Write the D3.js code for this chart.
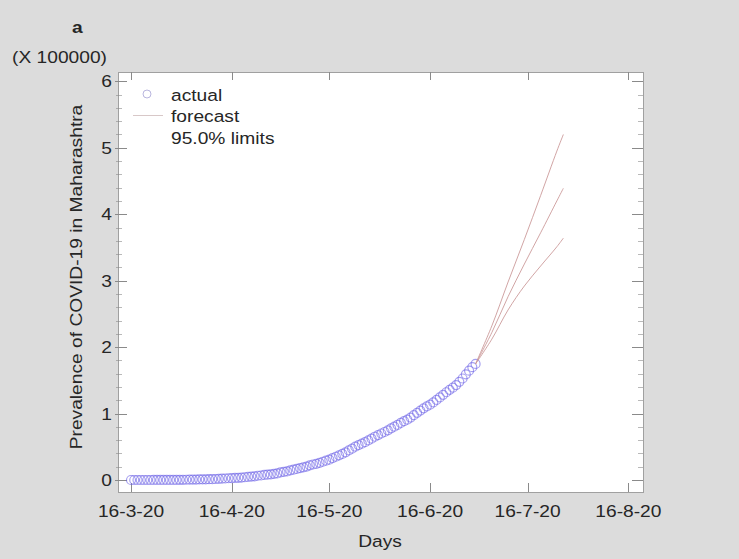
<!DOCTYPE html>
<meta charset="utf-8">
<style>
    body {
        margin: 0;
        background-color: #dcdcdc;
        font-family: "Liberation Sans", Arial, Helvetica, sans-serif;
    }

    #chart {
        display: block;
    }

    text {
        fill: #262626;
    }
</style>

<body>
    <svg id="chart" width="739" height="559"></svg>
</body>

<script src="https://cdn.jsdelivr.net/npm/d3@7"></script>
<script>
    // Cumulative cases in Maharashtra, one value per day from 16-3-20 to 30-6-20
    var actualStart = "2020-03-16";
    var actualCases = [
        39, 41, 45, 49, 52, 63, 74, 97, 107, 122, 130, 153, 186, 203, 220, 302,
        335, 423, 490, 635, 748, 868, 1018, 1135, 1297, 1364, 1574, 1761, 1982, 2334, 2687,
        2919, 3202, 3323, 3648, 4200, 4666, 5218, 5649, 6427, 6817, 7628, 8068, 8590, 9318, 9915,
        11506, 12296, 12974, 14541, 15525, 16758, 17974, 19063, 20228, 22171, 23401, 24427, 25922,
        27524, 29100, 30706, 33053, 35058, 37136, 39297, 41642, 44582, 47190, 50231, 52667, 54758,
        56948, 59546, 62228, 65168, 67655,
        70013, 72300, 74860, 77793, 80229, 82968, 85975, 88528, 90787, 94041, 97648, 101141,
        104568, 107958, 110744, 113445, 116752, 120504, 124331, 128205, 132075, 135796, 139010,
        142900, 147741, 152765, 159133, 164626, 169883, 174761
    ];

    // Forecast and 95% limits
    var forecastDates = ["2020-06-30", "2020-07-05", "2020-07-10", "2020-07-15", "2020-07-20", "2020-07-25", "2020-07-27"];
    var forecastMid = [174761, 222000, 276000, 325000, 372000, 420000, 439000];
    var forecastLower = [174761, 212000, 256000, 292000, 322000, 351000, 364000];
    var forecastUpper = [174761, 232000, 298000, 362000, 428000, 495000, 520000];

    var xTickDates = ["2020-03-16", "2020-04-16", "2020-05-16", "2020-06-16", "2020-07-16", "2020-08-16"];
    var yTicks = [0, 100000, 200000, 300000, 400000, 500000, 600000];
    var yMinorTicks = d3.range(0, 600001, 20000);

    var svg = d3.select("#chart"),
        pLeft = 118, pRight = 643, pTop = 72, pBottom = 492,
        parse = d3.utcParse("%Y-%m-%d"),
        fmt = d3.utcFormat("%-d-%-m-%y"),
        sx = 1.13; // text in the original is drawn a bit wide

    var x = d3.scaleUtc()
        .domain([parse("2020-03-12"), new Date(Date.UTC(2020, 7, 20, 12))])
        .range([pLeft, pRight]);
    var y = d3.scaleLinear().domain([-18000, 614000]).range([pBottom, pTop]);

    var actual = actualCases.map(function (v, i) {
        return { date: d3.utcDay.offset(parse(actualStart), i), value: v };
    });

    function series(vals) {
        return vals.map(function (v, i) {
            return { date: parse(forecastDates[i]), value: v };
        });
    }

    function label(g, tx, ty, str, anchor, size, rot) {
        return g.append("text")
            .attr("transform", "translate(" + tx + "," + ty + ")" + (rot ? "rotate(" + rot + ")" : "") +
                "scale(" + sx + ",1)")
            .attr("text-anchor", anchor || "start")
            .attr("font-size", size || 17)
            .text(str);
    }

    function py(d) { return Math.round(y(d)) + 0.5; }
    function px(d) { return Math.round(x(parse(d))) + 0.5; }

    // plot area
    svg.append("rect")
        .attr("x", pLeft + 0.5).attr("y", pTop + 0.5)
        .attr("width", pRight - pLeft).attr("height", pBottom - pTop)
        .attr("fill", "#fff")
        .attr("stroke", "#a0a0a0");

    var ticks = svg.append("g").attr("stroke", "#8a8a8a").attr("stroke-width", 1);

    // y ticks: left crossing, right inward
    ticks.selectAll(".ymin").data(yMinorTicks).enter().append("line")
        .attr("x1", pLeft - 2).attr("x2", pLeft + 4)
        .attr("y1", py).attr("y2", py).attr("stroke-opacity", 0.6);
    ticks.selectAll(".ymin2").data(yMinorTicks).enter().append("line")
        .attr("x1", pRight - 5).attr("x2", pRight)
        .attr("y1", py).attr("y2", py).attr("stroke-opacity", 0.6);
    ticks.selectAll(".ymaj").data(yTicks).enter().append("line")
        .attr("x1", pLeft - 3).attr("x2", pLeft + 9)
        .attr("y1", py).attr("y2", py);
    ticks.selectAll(".ymaj2").data(yTicks).enter().append("line")
        .attr("x1", pRight - 11).attr("x2", pRight)
        .attr("y1", py).attr("y2", py);

    // x ticks: bottom and top, inward
    ticks.selectAll(".xb").data(xTickDates).enter().append("line")
        .attr("x1", px).attr("x2", px)
        .attr("y1", pBottom - 9).attr("y2", pBottom);
    ticks.selectAll(".xt").data(xTickDates).enter().append("line")
        .attr("x1", px).attr("x2", px)
        .attr("y1", pTop).attr("y2", pTop + 8);

    var labels = svg.append("g");
    yTicks.forEach(function (d) {
        label(labels, 112, y(d) + 6, d / 100000, "end");
    });
    xTickDates.forEach(function (d) {
        label(labels, x(parse(d)), 517, fmt(parse(d)), "middle");
    });
    label(labels, 380, 547, "Days", "middle");
    label(labels, 82, 277, "Prevalence of COVID-19 in Maharashtra", "middle", 17, -90);
    label(labels, 12, 63, "(X 100000)", "start", 17);
    label(labels, 72, 33, "a", "start", 17).attr("font-weight", "bold");

    // actual data
    svg.append("g").selectAll("circle").data(actual).enter().append("circle")
        .attr("cx", function (d) { return x(d.date); })
        .attr("cy", function (d) { return y(d.value); })
        .attr("r", 4.5)
        .attr("fill", "none")
        .attr("stroke", "#6b60e6")
        .attr("stroke-width", 1.2)
        .attr("stroke-opacity", 0.6);

    // forecast and limits
    var line = d3.line()
        .x(function (d) { return x(d.date); })
        .y(function (d) { return y(d.value); })
        .curve(d3.curveCatmullRom);

    [forecastUpper, forecastMid, forecastLower].forEach(function (vals) {
        svg.append("path")
            .attr("d", line(series(vals)))
            .attr("fill", "none")
            .attr("stroke", "#c99595")
            .attr("stroke-opacity", 0.85)
            .attr("stroke-width", 1);
    });

    // legend
    var legend = svg.append("g");
    legend.append("circle")
        .attr("cx", 147).attr("cy", 94).attr("r", 4)
        .attr("fill", "none").attr("stroke", "#8b86c8").attr("stroke-opacity", 0.6);
    legend.append("line")
        .attr("x1", 133).attr("x2", 163).attr("y1", 115.5).attr("y2", 115.5)
        .attr("stroke", "#d8c8c8");
    label(legend, 171, 101, "actual");
    label(legend, 171, 122, "forecast");
    label(legend, 171, 144, "95.0% limits");
</script>
